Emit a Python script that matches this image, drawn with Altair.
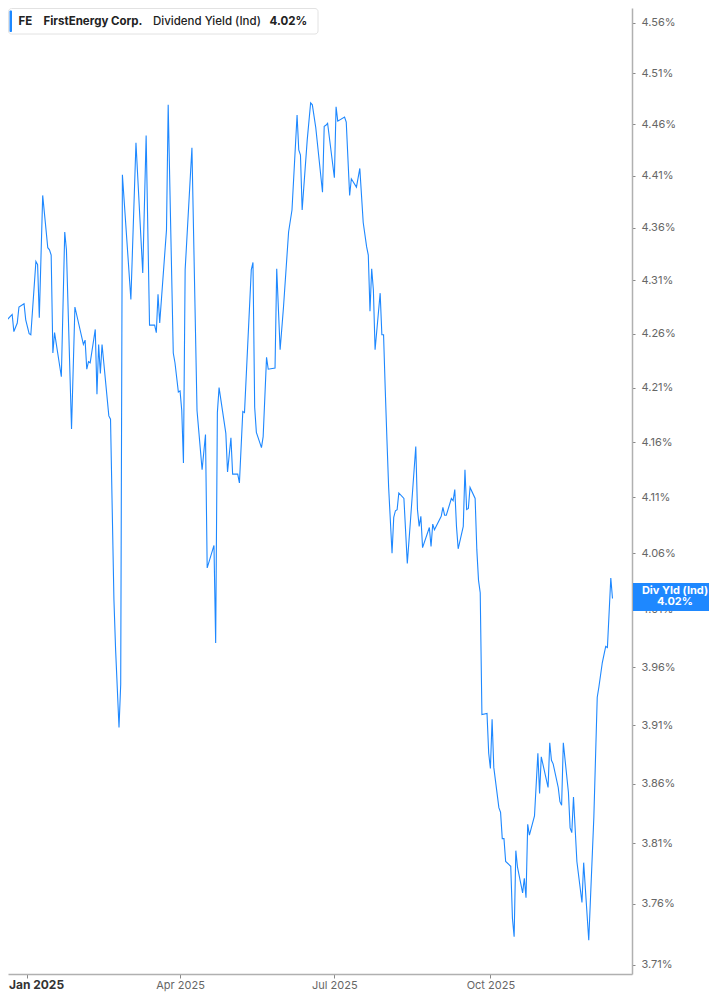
import altair as alt
import pandas as pd

ticker = "FE"
company = "FirstEnergy Corp."
metric = "Dividend Yield (Ind)"
metric_short = "Div Yld (Ind)"

dates = [
    "2024-12-16", "2024-12-17", "2024-12-18", "2024-12-19", "2024-12-20", "2024-12-23",
    "2024-12-24", "2024-12-26", "2024-12-27", "2024-12-30", "2024-12-31",
    "2025-01-02", "2025-01-03", "2025-01-06", "2025-01-07", "2025-01-08", "2025-01-10",
    "2025-01-13", "2025-01-14", "2025-01-15", "2025-01-16", "2025-01-17", "2025-01-21",
    "2025-01-23", "2025-01-24", "2025-01-27", "2025-01-29",
    "2025-02-03", "2025-02-04", "2025-02-05", "2025-02-06", "2025-02-07", "2025-02-10",
    "2025-02-11", "2025-02-12", "2025-02-13", "2025-02-14", "2025-02-18", "2025-02-19",
    "2025-02-21", "2025-02-22", "2025-02-24", "2025-02-25", "2025-02-26",
    "2025-03-03", "2025-03-06", "2025-03-10", "2025-03-12", "2025-03-14", "2025-03-17",
    "2025-03-18", "2025-03-19", "2025-03-20", "2025-03-24", "2025-03-25", "2025-03-28",
    "2025-03-29", "2025-03-31",
    "2025-04-01", "2025-04-02", "2025-04-03", "2025-04-04", "2025-04-08", "2025-04-11",
    "2025-04-14", "2025-04-16", "2025-04-17", "2025-04-21", "2025-04-22", "2025-04-23",
    "2025-04-24", "2025-04-28", "2025-04-29",
    "2025-05-01", "2025-05-02", "2025-05-05", "2025-05-06", "2025-05-08", "2025-05-09",
    "2025-05-13", "2025-05-14", "2025-05-15", "2025-05-16", "2025-05-19", "2025-05-20",
    "2025-05-22", "2025-05-23", "2025-05-27", "2025-05-28", "2025-05-30",
    "2025-06-01", "2025-06-04", "2025-06-06", "2025-06-09", "2025-06-10", "2025-06-11",
    "2025-06-12", "2025-06-15", "2025-06-17", "2025-06-18", "2025-06-20", "2025-06-24",
    "2025-06-25", "2025-06-26", "2025-06-27",
    "2025-07-01", "2025-07-02", "2025-07-03", "2025-07-07", "2025-07-08", "2025-07-10",
    "2025-07-11", "2025-07-14", "2025-07-16", "2025-07-18", "2025-07-20", "2025-07-21",
    "2025-07-22", "2025-07-23", "2025-07-24", "2025-07-25", "2025-07-28", "2025-07-29",
    "2025-07-30", "2025-07-31",
    "2025-08-01", "2025-08-02", "2025-08-04", "2025-08-05", "2025-08-06", "2025-08-07",
    "2025-08-08", "2025-08-11", "2025-08-13", "2025-08-15", "2025-08-18", "2025-08-19",
    "2025-08-20", "2025-08-21", "2025-08-22", "2025-08-26", "2025-08-27", "2025-08-28",
    "2025-08-29",
    "2025-09-02", "2025-09-03", "2025-09-04", "2025-09-05", "2025-09-08", "2025-09-09",
    "2025-09-10", "2025-09-11", "2025-09-12", "2025-09-15", "2025-09-16", "2025-09-17",
    "2025-09-18", "2025-09-19", "2025-09-22", "2025-09-23", "2025-09-24", "2025-09-25",
    "2025-09-26", "2025-09-29", "2025-09-30",
    "2025-10-01", "2025-10-02", "2025-10-03", "2025-10-06", "2025-10-07", "2025-10-08",
    "2025-10-09", "2025-10-10", "2025-10-13", "2025-10-14", "2025-10-15", "2025-10-16",
    "2025-10-17", "2025-10-20", "2025-10-21", "2025-10-22", "2025-10-23", "2025-10-24",
    "2025-10-27", "2025-10-29", "2025-10-30", "2025-10-31",
    "2025-11-04", "2025-11-05", "2025-11-06", "2025-11-07", "2025-11-10", "2025-11-11",
    "2025-11-12", "2025-11-13", "2025-11-16", "2025-11-17", "2025-11-18", "2025-11-19",
    "2025-11-21", "2025-11-24", "2025-11-25", "2025-11-28",
    "2025-12-01", "2025-12-03", "2025-12-04", "2025-12-06", "2025-12-08", "2025-12-09",
    "2025-12-11", "2025-12-12",
]

yields = [
    4.261, 4.266, 4.343, 4.341, 4.273, 4.278, 4.262, 4.270, 4.285, 4.288, 4.273,
    4.260, 4.259, 4.328, 4.325, 4.275, 4.391, 4.341, 4.339, 4.334, 4.242, 4.261, 4.220,
    4.356, 4.339, 4.172, 4.285,
    4.250, 4.254, 4.227, 4.234, 4.233, 4.264, 4.204, 4.250, 4.223, 4.250, 4.184, 4.181,
    4.019, 3.975, 3.908, 3.945, 4.411,
    4.292, 4.442, 4.317, 4.449, 4.268, 4.268, 4.261, 4.297, 4.270, 4.358, 4.479, 4.242,
    4.233, 4.206,
    4.207, 4.189, 4.141, 4.320, 4.437, 4.189, 4.135, 4.167, 4.047, 4.067, 3.981, 4.187,
    4.210, 4.168, 4.133,
    4.164, 4.131, 4.131, 4.123, 4.188, 4.187, 4.320, 4.327, 4.192, 4.169, 4.155, 4.165,
    4.238, 4.227, 4.228, 4.321, 4.245,
    4.285, 4.356, 4.377, 4.469, 4.435, 4.430, 4.377, 4.445, 4.481, 4.479, 4.457, 4.394,
    4.458, 4.459, 4.461,
    4.408, 4.477, 4.463, 4.467, 4.462, 4.391, 4.407, 4.399, 4.417, 4.365, 4.342, 4.334,
    4.281, 4.321, 4.301, 4.245, 4.298, 4.259, 4.259, 4.208,
    4.162, 4.119, 4.060, 4.092, 4.098, 4.099, 4.114, 4.109, 4.051, 4.092, 4.156, 4.099,
    4.084, 4.093, 4.065, 4.083, 4.066, 4.086, 4.081,
    4.093, 4.101, 4.094, 4.094, 4.109, 4.107, 4.117, 4.084, 4.064, 4.084, 4.135, 4.099,
    4.100, 4.119, 4.109, 4.063, 4.036, 4.025, 3.919, 3.920, 3.886,
    3.873, 3.915, 3.874, 3.840, 3.836, 3.814, 3.814, 3.795, 3.791, 3.748, 3.733, 3.804,
    3.790, 3.769, 3.781, 3.765, 3.826, 3.817, 3.833, 3.886, 3.852, 3.883,
    3.857, 3.895, 3.880, 3.877, 3.857, 3.845, 3.842, 3.895, 3.853, 3.823, 3.819, 3.849,
    3.795, 3.761, 3.794, 3.730,
    3.832, 3.934, 3.943, 3.964, 3.978, 3.977, 4.038, 4.020,
]

y_ticks = [3.71, 3.76, 3.81, 3.86, 3.91, 3.96, 4.01, 4.06, 4.11,
           4.16, 4.21, 4.26, 4.31, 4.36, 4.41, 4.46, 4.51, 4.56]
x_tick_months = [1, 4, 7, 10]

BLUE = "#1e88ff"
FONT = "Inter"
IS_JAN = "utcmonth(datum.value) === 0"

df = pd.DataFrame({"date": dates, "yield": yields})
last = pd.DataFrame({"date": [dates[-1]], "yield": [yields[-1]],
                     "label": [f"{yields[-1]:.2f}%"]})

x_scale = alt.Scale(
    type="utc",
    domain=[alt.DateTime(year=2024, month=12, date=20, hours=13, utc=True),
            alt.DateTime(year=2025, month=12, date=23, hours=12, utc=True)],
)
y_scale = alt.Scale(type="log", domain=[3.7026, 4.575], nice=False)

x_axis = alt.Axis(
    values=[alt.DateTime(year=2025, month=m, date=1, utc=True) for m in x_tick_months],
    labelExpr="utcFormat(datum.value, '%b %Y')",
    labelAlign={"condition": {"test": IS_JAN, "value": "left"}, "value": "center"},
    labelOffset={"condition": {"test": IS_JAN, "value": -19}, "value": 0},
    labelFontWeight={"condition": {"test": IS_JAN, "value": "bold"}, "value": "normal"},
    labelColor={"condition": {"test": IS_JAN, "value": "#333333"}, "value": "#666666"},
    labelFontSize={"condition": {"test": IS_JAN, "value": 12}, "value": 11},
    tickSize=4,
    labelPadding=1,
)
y_axis = alt.Axis(
    orient="right",
    values=y_ticks,
    labelExpr="format(datum.value, '.2f') + '%'",
    labelColor="#666666",
    labelFontSize=11,
    tickSize=3,
    labelPadding=6,
)

line = alt.Chart(df).mark_line(color=BLUE, strokeWidth=1.1, clip=True).encode(
    x=alt.X("date:T", scale=x_scale, axis=x_axis, title=None),
    y=alt.Y("yield:Q", scale=y_scale, axis=y_axis, title=None),
)

badge = alt.Chart(last).mark_rule(
    color=BLUE, strokeWidth=28, strokeCap="butt", yOffset=-1.5
).encode(x=alt.value(625), x2=alt.value(709), y=alt.Y("yield:Q", title=None))
badge_name = alt.Chart(last).mark_text(
    font=FONT, fontSize=11, fontWeight="bold", color="white", dy=-7
).encode(x=alt.value(667), y=alt.Y("yield:Q", title=None), text=alt.value(metric_short))
badge_value = alt.Chart(last).mark_text(
    font=FONT, fontSize=11, fontWeight="bold", color="white", dy=4
).encode(x=alt.value(667), y=alt.Y("yield:Q", title=None), text="label:N")

one = pd.DataFrame({"k": [0]})
legend_box = alt.Chart(one).mark_rect(
    fill="white", stroke="#e2e2e2", strokeWidth=1, cornerRadius=3
).encode(x=alt.value(0.5), x2=alt.value(310), y=alt.value(0.5), y2=alt.value(26))
legend_bar = alt.Chart(one).mark_rect(fill=BLUE, cornerRadius=1).encode(
    x=alt.value(1.5), x2=alt.value(4), y=alt.value(2.5), y2=alt.value(24)
)


def legend_text(text, x, weight):
    return alt.Chart(pd.DataFrame({"t": [text]})).mark_text(
        align="left", baseline="middle", font=FONT, fontSize=11.5,
        fontWeight=weight, color="#222222",
    ).encode(x=alt.value(x), y=alt.value(13.5), text="t:N")


chart = (
    alt.layer(
        line,
        legend_box,
        legend_bar,
        legend_text(ticker, 10.5, "bold"),
        legend_text(company, 35.5, "bold"),
        legend_text(metric, 145, 500),
        legend_text(last["label"][0], 261.5, "bold"),
        badge,
        badge_name,
        badge_value,
    )
    .properties(
        width=624,
        height=966,
        autosize="none",
        padding={"left": 0, "top": 0, "right": 77, "bottom": 19},
    )
    .configure_view(strokeWidth=0)
    .configure_axis(
        labelFont=FONT,
        domainColor="#b0b0b0",
        domainWidth=1.5,
        tickColor="#888888",
        grid=False,
    )
)

chart.save("out.html", embed_options={"renderer": "svg", "actions": False})
